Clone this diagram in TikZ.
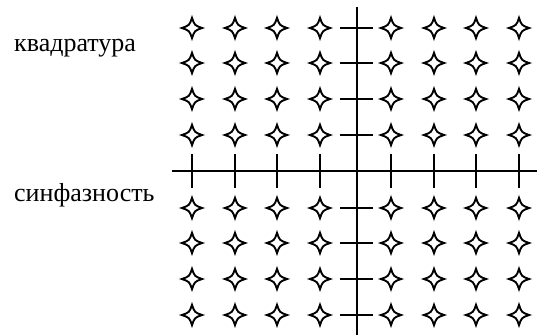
\documentclass[tikz,border=0pt]{standalone}
\usepackage{fontspec}
\setmainfont{Liberation Serif}
\begin{document}
\begin{tikzpicture}[x=1pt,y=-1pt,
  axis/.style={line width=1.4pt},
  tick/.style={line width=1.4pt},
  lbl/.style={anchor=base west, inner sep=0pt, font=\fontsize{26}{26}\selectfont},
  astro/.pic={\draw[line width=1.9pt, fill=white, line join=miter]
     (10.2,0) .. controls (2.6,2.6) .. (0,10.2)
     .. controls (-2.6,2.6) .. (-10.2,0)
     .. controls (-2.6,-2.6) .. (0,-10.2)
     .. controls (2.6,-2.6) .. cycle;}
]
\useasboundingbox (0,0) rectangle (537,335);
% axes
\coordinate (vtop) at (357,7);
\coordinate (vbot) at (357,335);
\coordinate (hleft) at (172,171);
\coordinate (hright) at (537,171);
\draw[axis] (vtop) -- (vbot);
\draw[axis] (hleft) -- (hright);
% ticks on vertical axis
\foreach \r [count=\i] in {28,63,99,135,208,243,279,315} {
  \coordinate (tl\i) at (340,\r);
  \coordinate (tr\i) at (373,\r);
  \draw[tick] (tl\i) -- (tr\i);
}
% ticks on horizontal axis
\foreach \c [count=\j] in {192,235,277,320,391,434,476,519} {
  \coordinate (tu\j) at (\c,154);
  \coordinate (td\j) at (\c,188);
  \draw[tick] (tu\j) -- (td\j);
}
% constellation points
\foreach \c [count=\j] in {192,235,277,320,391,434,476,519} {
  \foreach \r [count=\i] in {28,63,99,135,208,243,279,315} {
    \coordinate (p-\i-\j) at (\c,\r);
    \pic at (p-\i-\j) {astro};
  }
}
% labels
\node[lbl] (quad) at (14,51) {квадратура};
\node[lbl] (inph) at (14,201) {синфазность};
\end{tikzpicture}
\end{document}
